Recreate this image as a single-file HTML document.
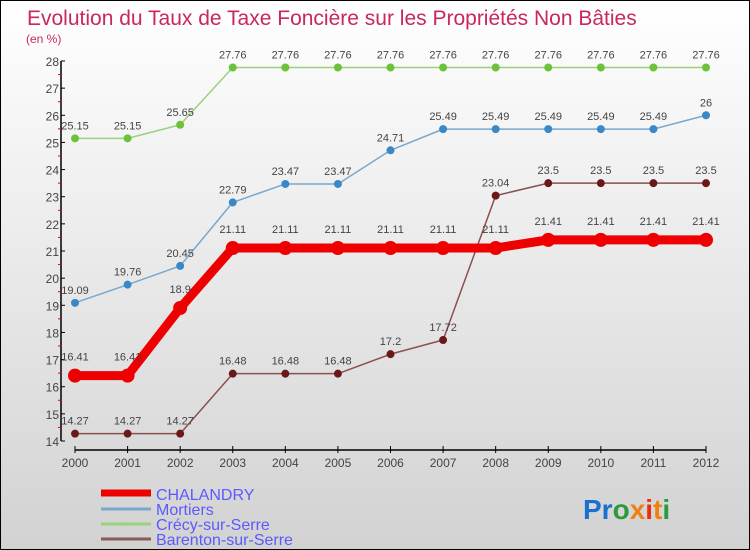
<!DOCTYPE html>
<html><head><meta charset="utf-8"><style>
html,body{margin:0;padding:0}
body{width:750px;height:550px;overflow:hidden;font-family:"Liberation Sans",sans-serif}
#wrap{position:relative;width:748px;height:548px;border:1px solid #000;background:linear-gradient(#ffffff,#d2d2d2)}
</style></head><body>
<div id="wrap">
<svg id="chart" width="748" height="548" style="position:absolute;left:0;top:0">
<text x="26" y="24" font-size="21" fill="#c8285a">Evolution du Taux de Taxe Foncière sur les Propriétés Non Bâties</text>
<text x="25" y="42" font-size="12" fill="#c8285a">(en %)</text>
<g id="axes"></g><g id="series"></g>
<g>
<line x1="100" y1="492" x2="150" y2="492" stroke="#e00" stroke-width="7"/>
<text x="155" y="499" font-size="16" fill="#5a5aff">CHALANDRY</text>
<line x1="100" y1="508" x2="150" y2="508" stroke="#78a8cc" stroke-width="3"/>
<text x="155" y="514" font-size="16" fill="#5a5aff">Mortiers</text>
<line x1="100" y1="523" x2="150" y2="523" stroke="#99d27a" stroke-width="3"/>
<text x="155" y="529" font-size="16" fill="#5a5aff">Crécy-sur-Serre</text>
<line x1="100" y1="538" x2="150" y2="538" stroke="#8a5a5a" stroke-width="3"/>
<text x="155" y="544" font-size="16" fill="#5a5aff">Barenton-sur-Serre</text>
</g>
<text x="582" y="518" font-size="28" font-weight="bold"><tspan fill="#1a6fd0">Pr</tspan><tspan fill="#2a9a3a">o</tspan><tspan fill="#f08010">x</tspan><tspan fill="#e83010">i</tspan><tspan fill="#f08010">t</tspan><tspan fill="#2a9a3a">i</tspan></text>
</svg>
</div>
<script>
const years=[2000,2001,2002,2003,2004,2005,2006,2007,2008,2009,2010,2011,2012];
const yTicks=[14,15,16,17,18,19,20,21,22,23,24,25,26,27,28];
const chalandry=[16.41,16.41,18.9,21.11,21.11,21.11,21.11,21.11,21.11,21.41,21.41,21.41,21.41];
const mortiers=[19.09,19.76,20.45,22.79,23.47,23.47,24.71,25.49,25.49,25.49,25.49,25.49,26];
const crecy=[25.15,25.15,25.65,27.76,27.76,27.76,27.76,27.76,27.76,27.76,27.76,27.76,27.76];
const barenton=[14.27,14.27,14.27,16.48,16.48,16.48,17.2,17.72,23.04,23.5,23.5,23.5,23.5];
const NS="http://www.w3.org/2000/svg";
const x0=74,x1=705,yTop=60,yBot=440,vMin=14,vMax=28;
function X(i){return x0+(x1-x0)*i/(years.length-1);}
function Y(v){return yBot-(v-vMin)*(yBot-yTop)/(vMax-vMin);}
function mk(tag,attrs,parent){const e=document.createElementNS(NS,tag);for(const k in attrs)e.setAttribute(k,attrs[k]);parent.appendChild(e);return e;}
const axes=document.getElementById('axes');
let l=mk('line',{x1:60,y1:yTop,x2:60,y2:yBot,stroke:'#000','stroke-width':1.5},axes);


l=mk('line',{x1:x0,y1:449,x2:x1,y2:449,stroke:'#000','stroke-width':1.5},axes);


yTicks.forEach(v=>{const y=Y(v);
 mk('line',{x1:60,y1:y,x2:64,y2:y,stroke:'#000'},axes);
 if(v<vMax)mk('line',{x1:57,y1:Y(v+0.5),x2:60,y2:Y(v+0.5),stroke:'#e00'},axes);
 const t=mk('text',{x:58,y:y+5,'font-size':12,fill:'#444','text-anchor':'end'},axes);t.textContent=v;
 
 
});
years.forEach((yr,i)=>{const x=X(i);
 mk('line',{x1:x,y1:445,x2:x,y2:452,stroke:'#000'},axes);
 const t=mk('text',{x:x,y:466,'font-size':12,fill:'#444','text-anchor':'middle'},axes);t.textContent=yr;
 
 
});
const ser=document.getElementById('series');
function draw(data,name,color,dot,w,r,off){
 const g=mk('g',{},ser);
 
 
 const p=mk('polyline',{points:data.map((v,i)=>X(i)+','+Y(v)).join(' '),fill:'none',stroke:color,'stroke-width':w,'stroke-linejoin':'round'},g);
 
 
 data.forEach((v,i)=>{
  const c=mk('circle',{cx:X(i),cy:Y(v),r:r,fill:dot},g);
  
  
  const t=mk('text',{x:X(i),y:Y(v)-off,'font-size':11,fill:'#444','text-anchor':'middle'},g);t.textContent=v;
  
  
 });
}
draw(crecy,'crecy-sur-serre','#99d27a','#6cc23a',1.5,4,9);
draw(mortiers,'mortiers','#78a8cc','#3a88c8',1.5,4,9);
draw(barenton,'barenton-sur-serre','#8a5050','#6a1818',1.5,4,9);
draw(chalandry,'chalandry','#ee0000','#ee0000',9,7,15);
</script>
</body></html>
